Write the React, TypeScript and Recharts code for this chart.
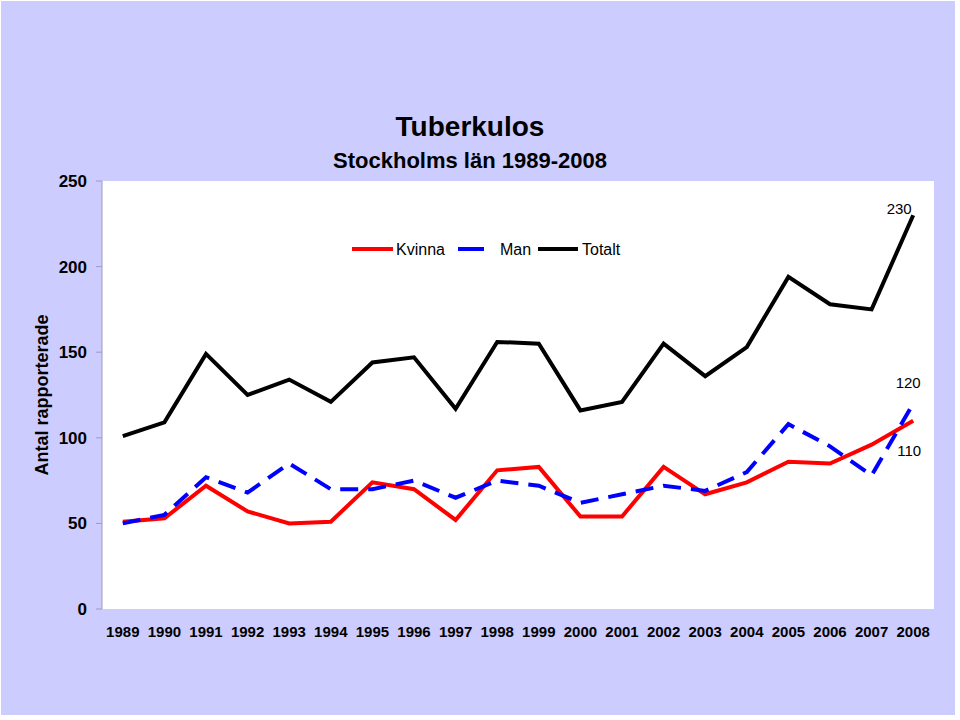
import { LineChart, Line, XAxis, YAxis, CartesianGrid } from "recharts";

const years = ["1989", "1990", "1991", "1992", "1993", "1994", "1995", "1996", "1997", "1998", "1999", "2000", "2001", "2002", "2003", "2004", "2005", "2006", "2007", "2008"];
const kvinna = [51, 53, 72, 57, 50, 51, 74, 70, 52, 81, 83, 54, 54, 83, 67, 74, 86, 85, 96, 110];
const man = [50, 55, 77, 68, 85, 70, 70, 75, 65, 75, 72, 62, 67, 72, 69, 80, 108, 95, 78, 120];
const totalt = [101, 109, 149, 125, 134, 121, 144, 147, 117, 156, 155, 116, 121, 155, 136, 153, 194, 178, 175, 230];
const yTicks = [0, 50, 100, 150, 200, 250];
const boundaryTicks = years.map((_, i) => i).concat(years.length);

const data = years.map((year, i) => ({ year, kvinna: kvinna[i], man: man[i], totalt: totalt[i] }));

const FONT = "'Liberation Sans', Arial, sans-serif";
const AXIS = "#9c9cc0";
const PLOT_W = 832;
const HALF_BAND = PLOT_W / years.length / 2;

// only the last point of each series gets its value written next to it
function endLabel(dx: number, dy: number) {
  return (props: any) => {
    if (props.index !== years.length - 1) return null;
    return (
      <text x={props.x + dx} y={props.y + dy} textAnchor="middle" dominantBaseline="central" fontSize={15} fontFamily={FONT} fill="#000">
        {props.value}
      </text>
    );
  };
}

export default function App() {
  return (
    <div style={{ position: "absolute", left: 0, top: 0, width: 960, height: 720, background: "#fff", fontFamily: FONT }}>
      <div style={{ position: "absolute", left: 1, top: 1, width: 954, height: 714, background: "#ccccff" }} />

      <div style={{ position: "absolute", left: 0, width: 940, top: 111, textAlign: "center", fontSize: 28, fontWeight: "bold", lineHeight: "32px" }}>
        Tuberkulos
      </div>
      <div style={{ position: "absolute", left: 0, width: 940, top: 148, textAlign: "center", fontSize: 22, fontWeight: "bold", lineHeight: "26px" }}>
        Stockholms län 1989-2008
      </div>
      <div
        style={{
          position: "absolute",
          left: 42,
          top: 395,
          transform: "translate(-50%, -50%) rotate(-90deg)",
          whiteSpace: "nowrap",
          fontSize: 18,
          fontWeight: "bold",
        }}
      >
        Antal rapporterade
      </div>

      <LineChart
        width={960}
        height={720}
        data={data}
        margin={{ top: 181, right: 26, left: 0, bottom: 81 }}
        style={{ position: "absolute", left: 0, top: 0 }}
      >
        <CartesianGrid fill="#ffffff" stroke="none" xAxisId="grid" />
        <XAxis
          xAxisId="grid"
          type="number"
          domain={[0, years.length]}
          allowDataOverflow
          ticks={boundaryTicks}
          tick={false}
          tickSize={5}
          height={0}
          stroke={AXIS}
        />
        <XAxis
          xAxisId="cat"
          dataKey="year"
          interval={0}
          padding={{ left: HALF_BAND, right: HALF_BAND }}
          axisLine={false}
          tickLine={false}
          tickSize={0}
          tickMargin={17}
          height={30}
          tick={{ fill: "#000", fontSize: 15, fontWeight: "bold", fontFamily: FONT }}
        />
        <YAxis
          domain={[0, 250]}
          ticks={yTicks}
          width={102}
          tickSize={6}
          tickMargin={9}
          stroke={AXIS}
          tick={{ fill: "#000", fontSize: 17, fontWeight: "bold", fontFamily: FONT }}
        />
        <Line xAxisId="cat" type="linear" dataKey="kvinna" stroke="#ff0000" strokeWidth={4} dot={false} isAnimationActive={false} label={endLabel(-4, 30)} />
        <Line xAxisId="cat" type="linear" dataKey="man" stroke="#0000ff" strokeWidth={4} strokeDasharray="18 10" dot={false} isAnimationActive={false} label={endLabel(-5, -21)} />
        <Line xAxisId="cat" type="linear" dataKey="totalt" stroke="#000000" strokeWidth={4} dot={false} isAnimationActive={false} label={endLabel(-14, -7)} />
      </LineChart>

      <svg width={960} height={720} style={{ position: "absolute", left: 0, top: 0, pointerEvents: "none" }}>
        <line x1={352} x2={393} y1={249} y2={249} stroke="#ff0000" strokeWidth={4} />
        <text x={396} y={249} dominantBaseline="central" fontSize={16} fontFamily={FONT}>Kvinna</text>
        <line x1={458} x2={484} y1={249} y2={249} stroke="#0000ff" strokeWidth={4} />
        <text x={500} y={249} dominantBaseline="central" fontSize={16} fontFamily={FONT}>Man</text>
        <line x1={538} x2={578} y1={249} y2={249} stroke="#000000" strokeWidth={4} />
        <text x={582} y={249} dominantBaseline="central" fontSize={16} fontFamily={FONT}>Totalt</text>
      </svg>
    </div>
  );
}
